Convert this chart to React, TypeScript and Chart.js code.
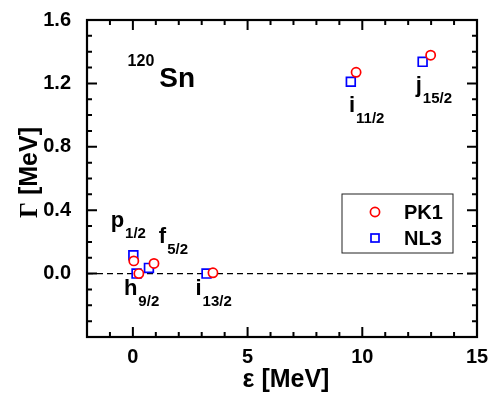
import { useEffect, useRef } from 'react';
import { Chart, registerables } from 'chart.js';

Chart.register(...registerables);

// Data
const pk1X = [0.04, 0.26, 0.92, 3.49, 9.73, 12.98];
const pk1Y = [0.08, 0.0, 0.064, 0.005, 1.27, 1.378];
const nl3X = [0.02, 0.16, 0.7, 3.21, 9.5, 12.63];
const nl3Y = [0.116, 0.0, 0.036, 0.0, 1.21, 1.336];
const xTickLabels = [0, 5, 10, 15];
const yTickLabels = [0, 0.4, 0.8, 1.2, 1.6];
const seriesNames = ['PK1', 'NL3'];

// State annotations (data-space anchors)
const stateMain = ['p', 'f', 'h', 'i', 'i', 'j'];
const stateSub = ['1/2', '5/2', '9/2', '13/2', '11/2', '15/2'];
const stateX = [-0.97, 1.13, -0.39, 2.73, 9.42, 12.33];
const stateY = [0.296, 0.191, -0.136, -0.136, 1.017, 1.148];

const SANS = '"Liberation Sans", Arial, sans-serif';

const overlay = {
  id: 'overlay',
  beforeDatasetsDraw(chart: any) {
    const { ctx, chartArea: a, scales } = chart;
    const y0 = scales.y.getPixelForValue(0);
    ctx.save();
    ctx.strokeStyle = '#000';
    ctx.lineWidth = 1.3;
    ctx.setLineDash([6, 4]);
    ctx.beginPath();
    ctx.moveTo(a.left, y0);
    ctx.lineTo(a.right, y0);
    ctx.stroke();
    ctx.restore();
  },
  afterDraw(chart: any) {
    const { ctx, chartArea: a, scales } = chart;
    const xs = scales.x;
    const ys = scales.y;
    ctx.save();
    // ticks
    ctx.strokeStyle = '#000';
    ctx.lineWidth = 2;
    ctx.beginPath();
    for (let v = -2; v <= 15; v++) {
      const px = xs.getPixelForValue(v);
      const len = v % 5 === 0 ? 10 : 5;
      ctx.moveTo(px, a.bottom);
      ctx.lineTo(px, a.bottom - len);
      ctx.moveTo(px, a.top);
      ctx.lineTo(px, a.top + len);
    }
    for (let i = -4; i <= 16; i++) {
      const v = i / 10;
      const py = ys.getPixelForValue(v);
      const len = i % 4 === 0 ? 10 : 5;
      ctx.moveTo(a.left, py);
      ctx.lineTo(a.left + len, py);
      ctx.moveTo(a.right, py);
      ctx.lineTo(a.right - len, py);
    }
    ctx.stroke();
    // frame
    ctx.lineWidth = 2.2;
    ctx.strokeRect(a.left, a.top, a.right - a.left, a.bottom - a.top);

    // axis titles
    ctx.fillStyle = '#000';
    ctx.textBaseline = 'alphabetic';
    ctx.font = `bold 25px ${SANS}`;
    const xt = 'ε [MeV]';
    const w = ctx.measureText(xt).width;
    ctx.fillText(xt, (a.left + a.right) / 2 + 4 - w / 2, 387);

    ctx.save();
    ctx.translate(37, (a.top + a.bottom) / 2 - 6);
    ctx.rotate(-Math.PI / 2);
    ctx.font = `bold 25px "Liberation Serif", serif`;
    const g = 'Γ';
    const gw = ctx.measureText(g).width;
    ctx.font = `bold 25px ${SANS}`;
    const rest = ' [MeV]';
    const rw = ctx.measureText(rest).width;
    const start = -(gw + rw) / 2;
    ctx.font = `bold 25px "Liberation Serif", serif`;
    ctx.fillText(g, start, 0);
    ctx.font = `bold 25px ${SANS}`;
    ctx.fillText(rest, start + gw, 0);
    ctx.restore();

    // state labels
    for (let i = 0; i < stateMain.length; i++) {
      const px = xs.getPixelForValue(stateX[i]);
      const py = ys.getPixelForValue(stateY[i]);
      ctx.font = `bold 22px ${SANS}`;
      ctx.fillText(stateMain[i], px, py);
      const mw = ctx.measureText(stateMain[i]).width;
      ctx.font = `bold 15px ${SANS}`;
      ctx.fillText(stateSub[i], px + mw + 1, py + 11);
    }

    // 120Sn
    const sx = xs.getPixelForValue(-0.23);
    const sy = ys.getPixelForValue(1.311);
    ctx.font = `bold 16px ${SANS}`;
    ctx.fillText('120', sx, sy);
    const sw = ctx.measureText('120').width;
    ctx.font = `bold 28px ${SANS}`;
    ctx.fillText('Sn', sx + sw + 5, sy + 21);

    // legend
    const lx = a.right - 135;
    const ly = a.top + 174;
    ctx.lineWidth = 1;
    ctx.strokeStyle = '#222';
    ctx.strokeRect(lx, ly, 111, 59);
    ctx.lineWidth = 1.7;
    ctx.strokeStyle = '#ff0000';
    ctx.fillStyle = '#fff';
    ctx.beginPath();
    ctx.arc(lx + 33, ly + 18, 4.6, 0, Math.PI * 2);
    ctx.fill();
    ctx.stroke();
    ctx.strokeStyle = '#0000ff';
    ctx.strokeRect(lx + 29, ly + 40, 8, 8);
    ctx.fillStyle = '#000';
    ctx.font = `bold 20px ${SANS}`;
    ctx.textBaseline = 'middle';
    ctx.fillText(seriesNames[0], lx + 62, ly + 19);
    ctx.fillText(seriesNames[1], lx + 62, ly + 45);
    ctx.restore();
  },
};

export default function App() {
  const ref = useRef<HTMLCanvasElement>(null);
  useEffect(() => {
    if (!ref.current) return;
    const chart = new Chart(ref.current, {
      type: 'scatter',
      data: {
        datasets: [
          {
            label: seriesNames[0],
            data: pk1X.map((x, i) => ({ x, y: pk1Y[i] })),
            pointStyle: 'circle',
            pointRadius: 4.6,
            borderColor: '#ff0000',
            backgroundColor: '#ffffff',
            borderWidth: 1.7,
          },
          {
            label: seriesNames[1],
            data: nl3X.map((x, i) => ({ x, y: nl3Y[i] })),
            pointStyle: 'rect',
            pointRadius: 6.2,
            borderColor: '#0000ff',
            backgroundColor: '#ffffff',
            borderWidth: 1.7,
          },
        ],
      },
      options: {
        responsive: false,
        animation: false,
        layout: { padding: { left: 0, top: 19, right: 14, bottom: 0 } },
        plugins: { legend: { display: false }, tooltip: { enabled: false } },
        scales: {
          x: {
            type: 'linear',
            min: -2,
            max: 15,
            afterFit: (s: any) => { s.height = 56; },
            grid: { display: false },
            border: { display: false },
            ticks: {
              stepSize: 1,
              autoSkip: false,
              maxRotation: 0,
              padding: 0,
              color: '#000',
              font: { family: SANS, weight: 'bold', size: 20 },
              callback: (v: any) => (xTickLabels.some((t) => Math.abs(t - v) < 1e-6) ? String(v) : ''),
            },
          },
          y: {
            type: 'linear',
            min: -0.4,
            max: 1.6,
            afterFit: (s: any) => { s.width = 87; },
            grid: { display: false },
            border: { display: false },
            ticks: {
              stepSize: 0.1,
              autoSkip: false,
              padding: 8,
              color: '#000',
              font: { family: SANS, weight: 'bold', size: 20 },
              callback: (v: any) => (yTickLabels.some((t) => Math.abs(t - v) < 1e-6) ? Number(v).toFixed(1) : ''),
            },
          },
        },
      },
      plugins: [overlay],
    });
    return () => chart.destroy();
  }, []);
  return (
    <div style={{ position: 'absolute', left: 0, top: 0, width: 491, height: 393, background: '#fff' }}>
      <canvas ref={ref} width={491} height={393} style={{ display: 'block' }} />
    </div>
  );
}
